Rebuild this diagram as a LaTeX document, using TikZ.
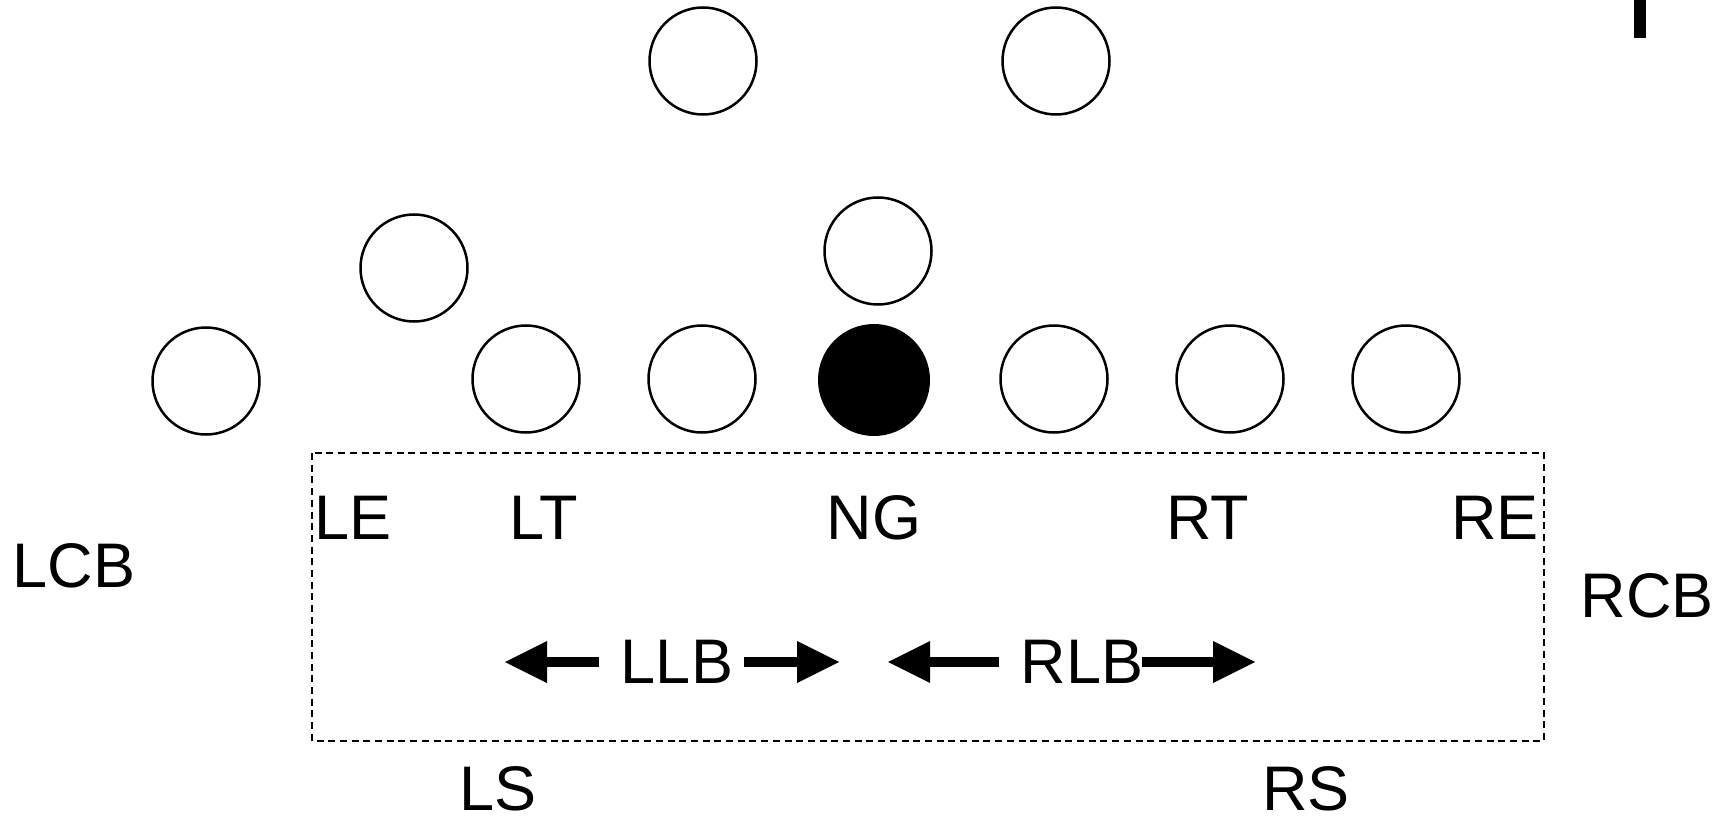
\documentclass[tikz,border=0pt]{standalone}
\usepackage{fontspec}
\setmainfont{Liberation Sans}
\usetikzlibrary{arrows.meta}
\begin{document}
\begin{tikzpicture}[x=1pt,y=-1pt,
  player/.style={circle,draw=black,line width=2.5pt,minimum size=107pt,inner sep=0pt},
  center/.style={circle,draw=black,fill=black,line width=2pt,minimum size=110pt,inner sep=0pt},
  lbl/.style={font=\fontsize{63}{70}\selectfont,inner sep=0pt,anchor=center},
  zone/.style={draw=black,line width=2pt,dash pattern=on 7pt off 4.7pt},
  fat/.style={line width=10pt,-{Triangle[length=42pt,width=42pt,line width=0pt]}}]
\useasboundingbox (0,0) rectangle (1728,818);
% top-right mark
\fill (1634,0) rectangle (1646,38);
% players
\node[player] (p1) at (703,61) {};
\node[player] (p2) at (1056,61) {};
\node[player] (p3) at (414,268) {};
\node[player] (p4) at (878,251) {};
\node[player] (p5) at (206,381) {};
\node[player] (p6) at (526,379) {};
\node[player] (p7) at (702,379) {};
\node[center] (ball) at (874,380) {};
\node[player] (p8) at (1054,379) {};
\node[player] (p9) at (1230,379) {};
\node[player] (p10) at (1406,379) {};
% zone
\draw[zone] (312,453) rectangle (1544,741);
% labels
\node[lbl] (le) at (353,518) {LE};
\node[lbl] (lt) at (544,518) {LT};
\node[lbl] (ng) at (874,518) {NG};
\node[lbl] (rt) at (1208,518) {RT};
\node[lbl] (re) at (1495,518) {RE};
\node[lbl] (lcb) at (74,566) {LCB};
\node[lbl] (rcb) at (1647,596) {RCB};
\node[lbl] (ls) at (498,789) {LS};
\node[lbl] (rs) at (1306,789) {RS};
\node[lbl] (llb) at (677,662) {LLB};
\node[lbl] (rlb) at (1082,662) {RLB};
% arrows
\coordinate (a1s) at (599,662); \coordinate (a1e) at (505,662);
\coordinate (a2s) at (744,662); \coordinate (a2e) at (839,662);
\coordinate (a3s) at (999,662); \coordinate (a3e) at (888,662);
\coordinate (a4s) at (1142,662); \coordinate (a4e) at (1255,662);
\draw[fat] (a1s) -- (a1e);
\draw[fat] (a2s) -- (a2e);
\draw[fat] (a3s) -- (a3e);
\draw[fat] (a4s) -- (a4e);
\end{tikzpicture}
\end{document}
